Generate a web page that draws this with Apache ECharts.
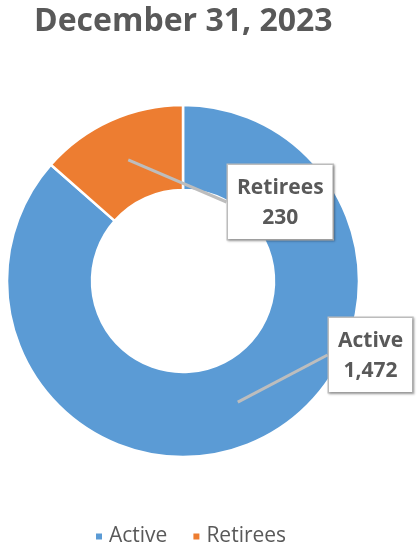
<!DOCTYPE html>
<html>
<head>
<meta charset="utf-8">
<script src="https://cdn.jsdelivr.net/npm/echarts@6/dist/echarts.min.js"></script>
<style>
  html, body { margin: 0; padding: 0; background: #fff; }
  #chart { width: 417px; height: 550px; }
</style>
</head>
<body>
<div id="chart"></div>
<script>
var titleText = 'December 31, 2023';
var categories = ['Active', 'Retirees'];
var members = [1472, 230];
var colors = ['#5B9BD5', '#ED7D31'];

// callout box top-left corners, in px
var calloutPos = {
    'Active': [329, 318],
    'Retirees': [228, 165]
};

var pieData = categories.map(function (name, i) {
    return { name: name, value: members[i], itemStyle: { color: colors[i] } };
});
var calloutData = categories.map(function (name, i) {
    return { name: name, value: members[i] };
});

var chartDom = document.getElementById('chart');
var myChart = echarts.init(chartDom);

var option = {
    animation: false,
    title: {
        text: titleText,
        left: 29,
        top: 1,
        textStyle: {
            fontFamily: 'Open Sans',
            fontSize: 32,
            fontWeight: 'bold',
            color: '#595959'
        }
    },
    legend: {
        data: categories,
        left: 89,
        bottom: -2,
        icon: 'rect',
        itemWidth: 8,
        itemHeight: 8,
        itemGap: 24,
        textStyle: {
            fontFamily: 'Open Sans',
            fontSize: 21,
            color: '#595959',
            padding: [0, 0, 0, 1]
        }
    },
    series: [
        {
            type: 'pie',
            center: [183, 281],
            radius: [91, 176],
            startAngle: 90,
            clockwise: true,
            silent: true,
            avoidLabelOverlap: false,
            itemStyle: {
                borderColor: '#fff',
                borderWidth: 2.5
            },
            label: { show: false },
            labelLine: { show: false },
            data: pieData
        },
        {
            // transparent ring-middle copy, only used to hang the callouts
            type: 'pie',
            center: [183, 281],
            radius: [0, 133],
            startAngle: 90,
            clockwise: true,
            silent: true,
            z: 5,
            avoidLabelOverlap: false,
            itemStyle: { color: 'rgba(0,0,0,0)', borderWidth: 0 },
            label: {
                show: true,
                position: 'outside',
                formatter: function (p) {
                    return '{n|' + p.name + '}\n{n|' + p.value.toLocaleString('en-US') + '}';
                },
                backgroundColor: '#fff',
                borderColor: '#bfbfbf',
                borderWidth: 1.5,
                padding: [8, 9, 6, 9],
                shadowColor: 'rgba(0,0,0,0.25)',
                shadowBlur: 2,
                shadowOffsetX: 1,
                shadowOffsetY: 1,
                rich: {
                    n: {
                        fontFamily: 'Open Sans',
                        fontSize: 21,
                        fontWeight: 'bold',
                        color: '#595959',
                        lineHeight: 30,
                        align: 'center'
                    }
                }
            },
            labelLine: {
                show: true,
                length: 10,
                length2: 0,
                lineStyle: {
                    color: '#bdbdbd',
                    width: 3
                }
            },
            labelLayout: function (params) {
                var name = categories[params.dataIndex];
                var pos = calloutPos[name];
                return {
                    x: pos[0],
                    y: pos[1],
                    align: 'left',
                    verticalAlign: 'top'
                };
            },
            data: calloutData
        }
    ]
};

myChart.setOption(option);
</script>
</body>
</html>
